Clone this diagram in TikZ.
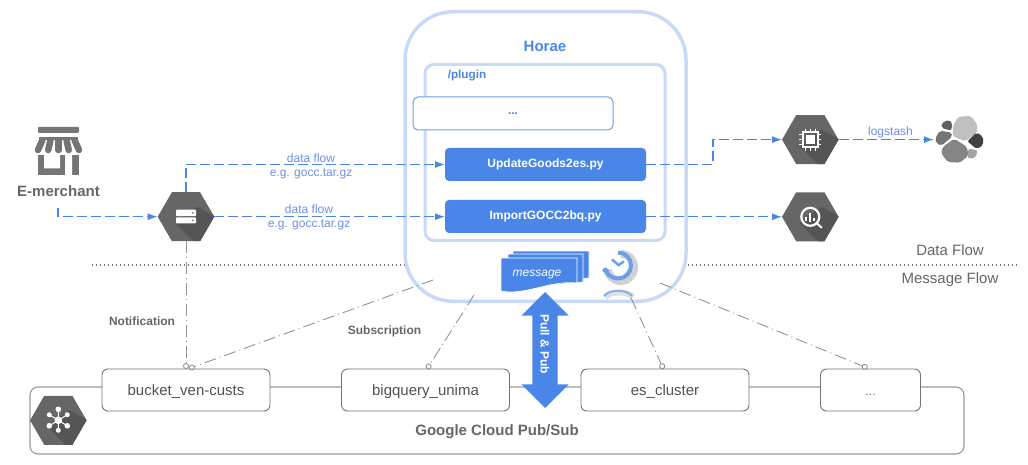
\documentclass[tikz,border=0pt]{standalone}
\usepackage{fontspec}
\setmainfont{Liberation Sans}
\usepackage{xcolor}
\usetikzlibrary{arrows.meta,positioning,calc,shapes.geometric,shapes.arrows}
\definecolor{gblue}{HTML}{4A86E8}
\definecolor{gtext}{HTML}{6D8FE8}
\definecolor{gpale}{HTML}{C9DAF8}
\definecolor{gline}{HTML}{6D9EEB}
\definecolor{grisH}{HTML}{666666}
\definecolor{grisD}{HTML}{555555}
\definecolor{grisT}{HTML}{666666}
\definecolor{grisS}{HTML}{757575}
\newcommand{\px}[1]{\fontsize{#1}{#1}\selectfont}
\newcommand{\hexshade}[1]{%
  \begin{scope}
    \clip (#1.corner 1) -- (#1.corner 2) -- (#1.corner 3) -- (#1.corner 4) -- (#1.corner 5) -- (#1.corner 6) -- cycle;
    \fill[grisD,shift={(#1.center)}] (-11,6) -- (10,27) -- (30,27) -- (30,0) -- (11,-10) -- cycle;
  \end{scope}}
\tikzset{
  hexa/.style={regular polygon, regular polygon sides=6, minimum size=56.5pt, inner sep=0pt, outer sep=0pt, fill=grisH},
  script/.style={rectangle, rounded corners=4pt, fill=gblue, text=white, outer sep=0pt,
                 minimum width=201pt, minimum height=33pt, font=\bfseries\px{12}},
  subbox/.style={rectangle, rounded corners=6pt, draw=grisS, line width=0.9pt, fill=white, outer sep=0pt,
                 minimum height=42pt, text height=12pt, text depth=1pt, font=\px{15}, text=grisT!80!black},
  flow/.style={draw=gblue, line width=1.3pt, dash pattern=on 10pt off 4pt, -{Latex[length=10pt,width=7pt]}},
  msg/.style={draw=gray!85, line width=0.9pt, dash pattern=on 12pt off 4pt on 1pt off 4pt, -{Circle[open,length=6pt,width=6pt]}},
  tag/.style={text=gtext, font=\px{12}, inner sep=0pt},
  note/.style={text=grisT, font=\bfseries\px{12}, inner sep=0pt},
  page/.style={fill=gblue, draw=white, line width=0.7pt},
  blob/.style={rounded corners=2pt, fill=black!#1},
}
\begin{document}
\begin{tikzpicture}[x=1pt,y=-1pt]
  \useasboundingbox (0,0) rectangle (1028,465);
  % pub/sub band
  \node[rectangle, rounded corners=8pt, draw=gray!80, line width=1.1pt, minimum width=934pt, minimum height=67pt, outer sep=0pt] (band) at (497,420.5) {};
  \node[text=grisT, font=\bfseries\px{15}, inner sep=0pt] (bandlabel) at (497,432) {Google Cloud Pub/Sub};
  \node[subbox, minimum width=168pt] (bucket) at (186,390) {bucket\_ven-custs};
  \node[subbox, minimum width=168pt, right=71.5pt of bucket] (bigq) {bigquery\_unima};
  \node[subbox, minimum width=168pt, right=71.5pt of bigq] (escl) {es\_cluster};
  \node[subbox, minimum width=100pt, right=71.5pt of escl, text=grisS, font=\px{13}] (more) {...};

  \coordinate (dotl) at (92,265);
  \coordinate (dotr) at (1017,265);
  \draw[grisS, line width=1.2pt, dash pattern=on 1.2pt off 2.8pt] (dotl) -- (dotr);

  % horae
  \node[rectangle, rounded corners=48pt, draw=gpale, line width=3.5pt, fill=white, minimum width=281pt, minimum height=289.5pt, outer sep=0pt] (horae) at (545.5,156.5) {};
  \node[rectangle, rounded corners=9pt, draw=gpale, line width=3pt, minimum width=240pt, minimum height=176pt, outer sep=0pt] (plugin) at (545,152.5) {};
  \node[text=gblue, font=\bfseries\px{15}, inner sep=0pt] (horaetitle) at (545,46) {Horae};
  \node[text=gblue, font=\bfseries\px{11.7}, inner sep=0pt] (plugintitle) at (467,76) {/plugin};
  \node[rectangle, rounded corners=5pt, draw=gline, line width=1pt, fill=white, minimum width=200pt, minimum height=33pt, text=gblue, font=\bfseries\px{12}, outer sep=0pt] (dots) at (513,113.5) {...};
  \node[script] (update) at (545.5,164.5) {UpdateGoods2es.py};
  \node[script, below=19pt of update] (import) {ImportGOCC2bq.py};

  % message stack
  \draw[page] (513,251) -- (589,251) -- (589,278) -- (560,280) -- (513,280) -- cycle;
  \draw[page] (508,254) -- (583,254) -- (583,282) -- (560,284) -- (508,284) -- cycle;
  \draw[page] (501,258) -- (577,258) -- (577,283) .. controls (550,280) and (525,296) .. (501,291) -- cycle;
  \node[text=white, font=\itshape\px{12}, inner sep=0pt] (message) at (537,274.5) {message};

  % clock
  \draw[black, opacity=0.18, line width=8pt] (621,254) .. controls (629,254) and (634,260) .. (634,267.5) .. controls (634,275) and (628,281) .. (621,281) .. controls (613,281) and (608,275) .. (608,270);
  \draw[black, opacity=0.12, line width=6pt] (605,297) .. controls (611,291) and (627,291) .. (633,297);
  \draw[gline!80, line width=2pt] (604,296) .. controls (610,289) and (626,289) .. (632,296);
  \draw[gline, line width=4pt] (618,252.5) .. controls (625.2,252.5) and (631,258.3) .. (631,265.5) .. controls (631,272.7) and (625.2,278.5) .. (618,278.5) .. controls (610.8,278.5) and (605,272.7) .. (605,268);
  \draw[gline, line width=3pt, line cap=round] (603.5,270) -- (608,270);
  \draw[gline, line width=2.5pt] (612,259.5) -- (618.5,265) -- (624,261.5);

  \node[double arrow, double arrow head extend=11pt, rotate=-90, fill=gblue, minimum height=116pt, inner xsep=0pt, inner ysep=12.5pt, outer sep=0pt] (pull) at (545,350) {};
  \node[rotate=-90, text=white, font=\bfseries\px{12}, inner sep=0pt] (pulltext) at (545,344) {Pull \& Pub};

  % hexagons
  \node[hexa] (server) at (186,216.7) {};
  \node[hexa] (chip) at (810.3,139.6) {};
  \node[hexa] (query) at (810.3,216.8) {};
  \node[hexa] (hub) at (58.3,420.3) {};
  \foreach \hx in {server,chip,query,hub} \hexshade{\hx};

  \begin{scope}[shift={(server.center)}]
    \fill[white, rounded corners=0.8pt] (-10,-7) rectangle (10,-0.6) (-10,0.6) rectangle (10,6.7);
    \fill[grisS] (6.7,-3.8) circle (1pt) (6.7,3.6) circle (1pt);
  \end{scope}
  \begin{scope}[shift={(chip.center)}]
    \draw[white, line width=1.7pt] (-7.5,-7.5) rectangle (7.5,7.5);
    \fill[white] (-4.3,-4.3) rectangle (4.3,4.3);
    \foreach \pin in {-5,0,5} {
      \draw[white, line width=1.2pt] (\pin,-11) -- (\pin,-8) (\pin,8) -- (\pin,11) (-11,\pin) -- (-8,\pin) (8,\pin) -- (11,\pin);
    }
  \end{scope}
  \begin{scope}[shift={(query.center)}]
    \draw[white, line width=2.2pt] (0,0) circle (9pt);
    \draw[white, line width=1.8pt] (-4,0) -- (-4,4) (0,-4) -- (0,5) (4,1) -- (4,4);
    \draw[white, line width=2pt] (6.5,6.5) -- (11.5,11);
  \end{scope}
  \begin{scope}[shift={(hub.center)}]
    \draw[white, line width=1pt] (0,0) -- (0,-11) (0,0) -- (0,10) (0,0) -- (-9,-5.5) (0,0) -- (9,-5.5) (0,0) -- (-9,5.5) (0,0) -- (9,5.5);
    \fill[white] (0,0) circle (3.8pt) (0,-11) circle (2.8pt) (0,10) circle (2.5pt) (-9,-5.5) circle (2.5pt) (9,-5.5) circle (2.5pt) (-9,5.5) circle (2.8pt) (9,5.5) circle (2.8pt);
  \end{scope}

  % shop
  \node[text=grisT, font=\bfseries\px{15}, inner sep=0pt] (merchant) at (58.5,191) {E-merchant};
  \begin{scope}[shift={(30,120)}]
    \fill[grisS, rounded corners=1pt] (8,7) rectangle (49,13);
    \fill[grisS] (9,17.5) rectangle (48,20);
    \fill[grisS] (8,35) rectangle (49,55);
    \fill[white] (14,35) rectangle (30,48.5) (35,35) rectangle (42,55);
    \foreach \tooth in {0,1,2,3,4} {
      \draw[grisS, line width=6.5pt, line cap=round] ({12.5+8*\tooth},20) -- ({8+10.25*\tooth},30);
    }
  \end{scope}
  \coordinate (shopfoot) at (58,208);

  % elastic
  \begin{scope}[shift={(925,108)},x=0.3333pt,y=-0.3333pt]
    \fill[blob=25] (85,50) -- (100,26) -- (138,24) -- (157,50) -- (156,74) -- (120,100) -- (83,84) -- cycle;
    \fill[blob=48] (88,92) -- (125,116) -- (131,142) -- (105,164) -- (68,162) -- (48,135) -- (54,116) -- cycle;
    \fill[blob=62] (50,45) -- (72,35) -- (83,48) -- (78,68) -- (50,60) -- cycle;
    \fill[blob=54] (31,90) -- (45,68) -- (80,74) -- (82,85) -- (50,113) -- (34,106) -- cycle;
    \fill[blob=74] (127,100) -- (155,73) -- (174,86) -- (174,112) -- (155,123) -- cycle;
    \fill[blob=36] (130,122) -- (158,127) -- (151,150) -- (128,151) -- cycle;
  \end{scope}
  \coordinate (elastic) at (934,139.6);

  % blue connectors
  \draw[flow] (shopfoot) |- (server.west);
  \draw[flow] (server.north) |- (update.west);
  \draw[flow] (server.east) -- (server.east -| import.west);
  \draw[flow] (update.east) -- ++(67,0) |- (chip.west);
  \draw[flow] (import.east |- query.west) -- (query.west);
  \draw[flow] (chip.east) -- (elastic);
  \node[tag] (flowa) at (311,158.5) {data flow};
  \node[tag, below=5pt of flowa] (gza) {e.g. gocc.tar.gz};
  \node[tag] (flowb) at (309,209.5) {data flow};
  \node[tag, below=5.5pt of flowb] (gzb) {e.g. gocc.tar.gz};
  \node[tag] (logs) at (890.5,132) {logstash};

  % grey connectors
  \coordinate (hzleft) at (433,280);
  \coordinate (hzmid) at (474,295);
  \coordinate (hzes) at (631,298);
  \coordinate (hzright) at (660,283);
  \draw[msg] (server.south) -- (bucket.north);
  \draw[msg] (hzleft) -- ([xshift=3pt,yshift=0.5pt]bucket.north);
  \draw[msg] (hzmid) -- ([xshift=1.5pt]bigq.north);
  \draw[msg] (hzes) -- ([xshift=-1.5pt]escl.north);
  \draw[msg] (hzright) -- ([xshift=-3pt,yshift=1pt]more.north);

  \node[note] (notif) at (142,321) {Notification};
  \node[note] (subsc) at (384.5,331) {Subscription};
  \node[text=grisT, font=\px{15}, inner sep=0pt] (dataflow) at (950,250.5) {Data Flow};
  \node[text=grisT, font=\px{15}, inner sep=0pt] (msgflow) at (950,280) {Message Flow};
\end{tikzpicture}
\end{document}
